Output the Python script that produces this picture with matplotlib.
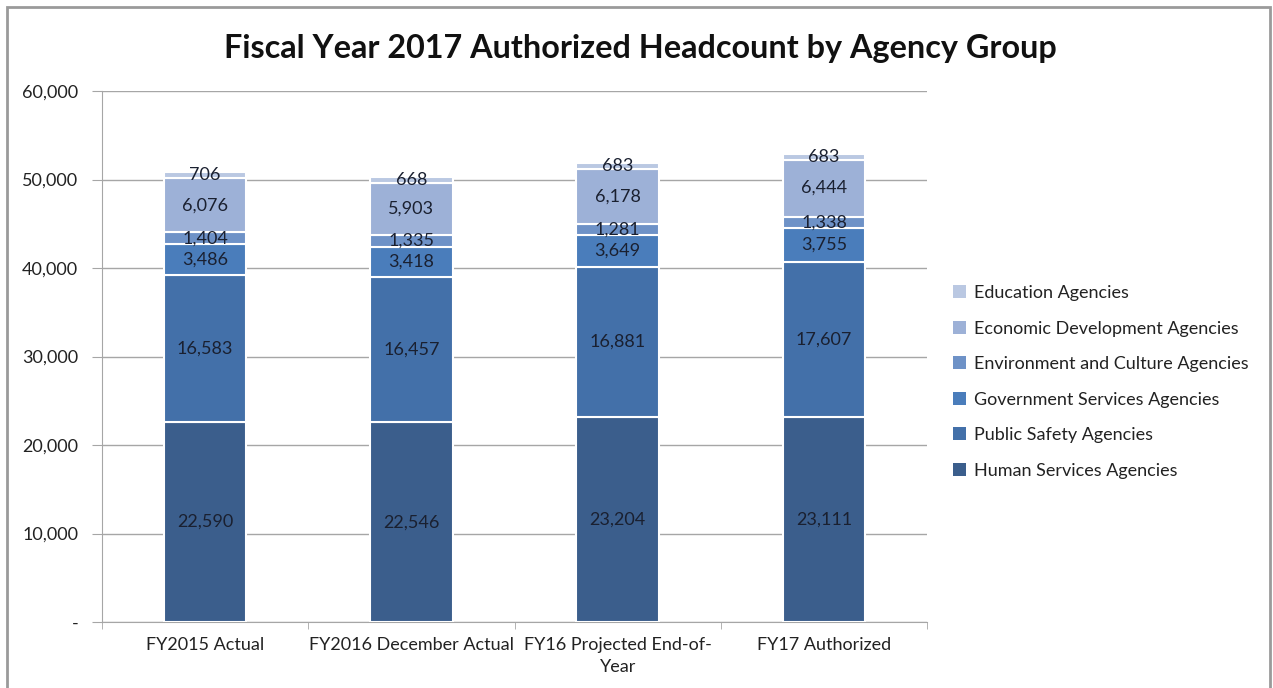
import matplotlib.pyplot as plt
from matplotlib.patches import Rectangle, Patch
from matplotlib.ticker import FuncFormatter, FixedLocator
import numpy as np

plt.rcParams['font.family'] = ['Lato', 'DejaVu Sans']

periods = ['FY2015 Actual', 'FY2016 December Actual', 'FY16 Projected End-of-\nYear', 'FY17 Authorized']

groups = ['Human Services Agencies', 'Public Safety Agencies', 'Government Services Agencies',
          'Environment and Culture Agencies', 'Economic Development Agencies', 'Education Agencies']

human_services = [22590, 22546, 23204, 23111]
public_safety = [16583, 16457, 16881, 17607]
government_services = [3486, 3418, 3649, 3755]
environment_culture = [1404, 1335, 1281, 1338]
economic_development = [6076, 5903, 6178, 6444]
education = [706, 668, 683, 683]

colors = ['#3b5e8c', '#4370a9', '#4a7dbb', '#6e92c7', '#9db1d7', '#bac8e2']

series = [human_services, public_safety, government_services,
          environment_culture, economic_development, education]

fig = plt.figure(figsize=(12.73, 6.88), dpi=100)
ax = fig.add_axes([0.0801, 0.0959, 0.6482, 0.7718])

# outer chart frame
fig.patches.append(Rectangle((7 / 1273, -0.05), 1263 / 1273, 1.05 - 7 / 688,
                             transform=fig.transFigure, fill=False,
                             edgecolor='#9a9a9a', linewidth=2))

x = np.arange(len(periods))
bottom = np.zeros(len(periods))
handles = []
for vals, name, col in zip(series, groups, colors):
    vals = np.array(vals)
    ax.bar(x, vals, 0.4, bottom=bottom, color=col, edgecolor='white',
           linewidth=1.5, zorder=3)
    for xi, b, v in zip(x, bottom, vals):
        ax.text(xi, b + v / 2, f'{v:,}', ha='center', va='center',
                fontsize=13, color='#1a2030', zorder=4)
    handles.append(Patch(facecolor=col, label=name))
    bottom += vals

ax.set_xlim(-0.5, len(periods) - 0.5)
ax.set_ylim(0, 60000)
ax.set_yticks(range(0, 60001, 10000))
ax.yaxis.set_major_formatter(FuncFormatter(lambda v, p: '-' if v == 0 else f'{int(v):,}'))
ax.grid(axis='y', color='#a6a6a6', linewidth=1, zorder=0)
ax.set_axisbelow(True)

ax.set_xticks(x)
ax.set_xticklabels(periods, fontsize=13, color='#222222', linespacing=1.45)
ax.xaxis.set_minor_locator(FixedLocator(np.arange(-0.5, len(periods), 1)))
ax.tick_params(axis='x', which='major', length=0, pad=11)
ax.tick_params(axis='x', which='minor', length=5, color='#a6a6a6')
ax.tick_params(axis='y', length=7, color='#a6a6a6', labelsize=13, labelcolor='#222222', pad=10)

for s in ['top', 'right']:
    ax.spines[s].set_visible(False)
for s in ['left', 'bottom']:
    ax.spines[s].set_color('#a6a6a6')

fig.text(0.503, 0.93, 'Fiscal Year 2017 Authorized Headcount by Agency Group',
         ha='center', va='center', fontsize=23.3, fontweight='bold', color='#111111')

fig.legend(handles=handles[::-1], loc='center left', bbox_to_anchor=(0.736, 0.445),
           frameon=False, fontsize=13, labelspacing=1.08, handlelength=0.7,
           handleheight=0.7, handletextpad=0.45, labelcolor='#222222')

fig.savefig('out.png', dpi=100)
